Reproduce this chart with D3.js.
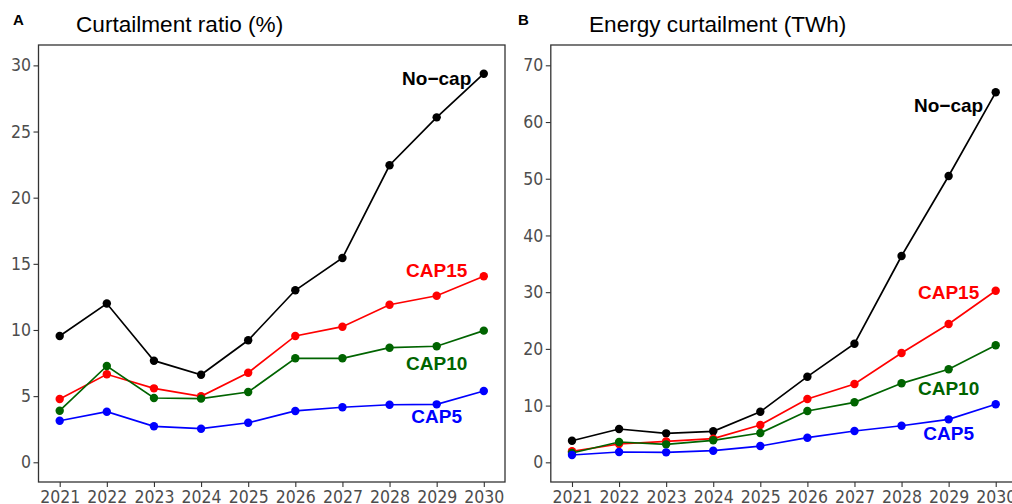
<!DOCTYPE html>
<html lang="en">
<head>
<meta charset="UTF-8">
<title>Curtailment</title>
<style>
  body { margin: 0; background: #fff; }
  svg { display: block; font-family: "Liberation Sans", Arial, sans-serif; }
  .tick text { fill: #4d4d4d; font-size: 17.5px; font-family: "Liberation Sans Narrow", "Arial Narrow", "DejaVu Sans Condensed", sans-serif; }
  .tick line { stroke: #333; stroke-width: 1.1; }
</style>
</head>
<body>
<svg width="1012" height="504"></svg>
<script src="https://d3js.org/d3.v7.min.js"></script>
<script>
const years = [2021, 2022, 2023, 2024, 2025, 2026, 2027, 2028, 2029, 2030];

// Panel A: curtailment ratio (%)
const ratioNoCap = [9.55, 12.0, 7.68, 6.62, 9.22, 13.0, 15.44, 22.45, 26.07, 29.37];
const ratioCap15 = [4.78, 6.65, 5.59, 4.99, 6.77, 9.55, 10.25, 11.91, 12.59, 14.06];
const ratioCap10 = [3.9, 7.28, 4.86, 4.81, 5.31, 7.86, 7.86, 8.66, 8.77, 9.95];
const ratioCap5  = [3.14, 3.82, 2.72, 2.54, 2.99, 3.88, 4.16, 4.35, 4.38, 5.39];

// Panel B: energy curtailment (TWh)
const energyNoCap = [3.81, 5.87, 5.11, 5.47, 8.92, 15.1, 20.91, 36.38, 50.48, 65.24];
const energyCap15 = [1.94, 3.23, 3.7, 4.17, 6.58, 11.16, 13.81, 19.27, 24.39, 30.26];
const energyCap10 = [1.64, 3.58, 3.17, 3.88, 5.17, 9.05, 10.58, 13.93, 16.4, 20.63];
const energyCap5  = [1.29, 1.82, 1.76, 2.05, 2.87, 4.34, 5.52, 6.45, 7.58, 10.23];

const seriesNames = ["No\u2212cap", "CAP15", "CAP10", "CAP5"];
const seriesColors = ["#000000", "#ff0000", "#006400", "#0000ff"];

const ratioTicks = [0, 5, 10, 15, 20, 25, 30];
const energyTicks = [0, 10, 20, 30, 40, 50, 60, 70];

// label positions (data units)
const ratioLabelY = [29, 14.5, 7.45, 3.45];
const energyLabelY = [63, 30, 13, 5.05];
const labelYear = 2029;

const svg = d3.select("svg");

function panel(opts) {
  const x = d3.scaleLinear().domain([2020.55, 2030.45]).range([opts.left, opts.right]);
  const y = d3.scaleLinear().domain(opts.yDomain).range([482, 45]);
  const g = svg.append("g");

  g.append("g")
    .attr("transform", "translate(0,482)")
    .call(d3.axisBottom(x).tickValues(years).tickFormat(d3.format("d")).tickSize(5).tickPadding(3.5))
    .call(a => a.select(".domain").remove());

  g.append("g")
    .attr("transform", `translate(${opts.left},0)`)
    .call(d3.axisLeft(y).tickValues(opts.ticks).tickSize(5).tickPadding(2.5))
    .call(a => a.select(".domain").remove());

  g.append("rect")
    .attr("x", opts.left).attr("y", 45)
    .attr("width", opts.right - opts.left).attr("height", 437)
    .attr("fill", "none").attr("stroke", "#333").attr("stroke-width", 1.3);

  const line = d3.line().x((d, i) => x(years[i])).y(d => y(d));

  opts.series.forEach((vals, k) => {
    g.append("path")
      .datum(vals)
      .attr("d", line)
      .attr("fill", "none")
      .attr("stroke", seriesColors[k])
      .attr("stroke-width", 1.7);
    g.selectAll(null)
      .data(vals)
      .enter().append("circle")
      .attr("cx", (d, i) => x(years[i]))
      .attr("cy", d => y(d))
      .attr("r", 4.2)
      .attr("fill", seriesColors[k]);
    g.append("text")
      .attr("x", x(labelYear))
      .attr("y", y(opts.labelY[k]))
      .attr("dy", "0.35em")
      .attr("text-anchor", "middle")
      .attr("font-size", 19)
      .attr("font-weight", "bold")
      .attr("fill", seriesColors[k])
      .text(seriesNames[k]);
  });

  svg.append("text")
    .attr("x", opts.tagX).attr("y", 25)
    .attr("font-size", 15).attr("font-weight", "bold")
    .text(opts.tag);
  svg.append("text")
    .attr("x", opts.titleX).attr("y", 31.5)
    .attr("font-size", 22.6)
    .text(opts.title);
}

panel({
  left: 38.5, right: 505, yDomain: [-1.49, 31.54], ticks: ratioTicks,
  series: [ratioNoCap, ratioCap15, ratioCap10, ratioCap5], labelY: ratioLabelY,
  tag: "A", tagX: 13, title: "Curtailment ratio (%)", titleX: 76
});

panel({
  left: 550.8, right: 1016.9, yDomain: [-3.47, 73.58], ticks: energyTicks,
  series: [energyNoCap, energyCap15, energyCap10, energyCap5], labelY: energyLabelY,
  tag: "B", tagX: 518, title: "Energy curtailment (TWh)", titleX: 589
});
</script>
</body>
</html>
